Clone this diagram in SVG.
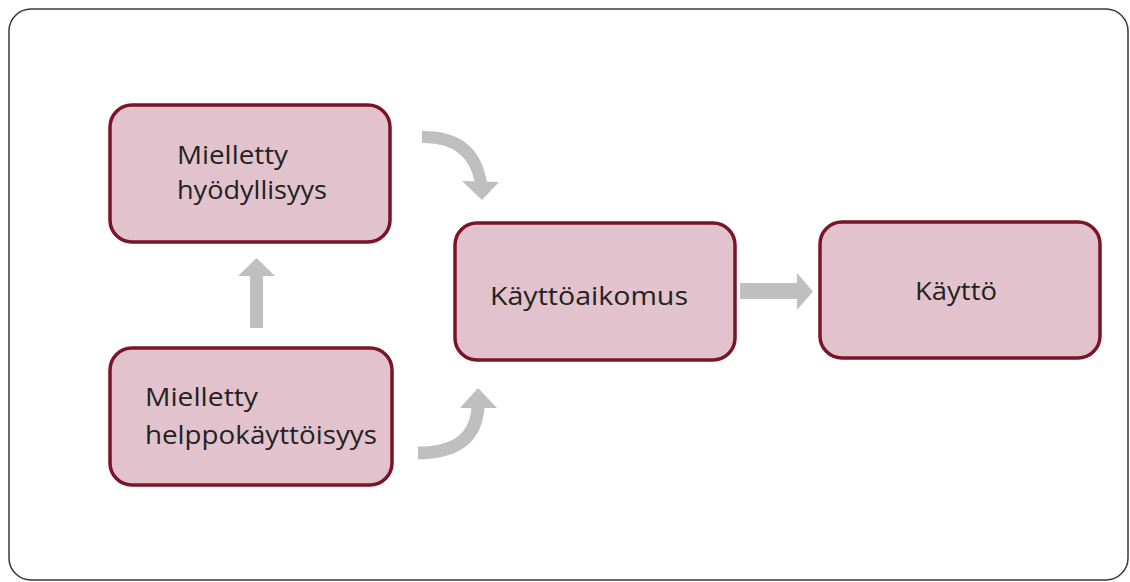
<svg xmlns="http://www.w3.org/2000/svg" width="1130" height="582" viewBox="0 0 1130 582">
  <style>
    .box { fill: #e2c3cd; stroke: #7a1528; stroke-width: 3.5; }
    .lbl { font-family: "Open Sans", Lato, "Liberation Sans", sans-serif; font-size: 26px; font-weight: 400; fill: #222222; }
    .shaft { fill: none; stroke: #bfbfbf; stroke-linecap: butt; }
    .head { fill: #bfbfbf; }
  </style>
  <rect x="0" y="0" width="1130" height="582" fill="#ffffff"/>
  <rect id="frame" x="9" y="9" width="1119" height="571" rx="22" ry="22" fill="#ffffff" stroke="#3a3a3a" stroke-width="1.5"/>

  <g id="connectors">
    <!-- up arrow -->
    <rect class="head" x="250" y="274" width="13" height="54"/>
    <polygon class="head" points="238,276 275,276 256.5,258"/>
    <!-- right arrow -->
    <rect class="head" x="740" y="283" width="58" height="16"/>
    <polygon class="head" points="797,273 797,310 813,291.5"/>
    <!-- curved arrow top -->
    <path class="shaft" stroke-width="12" d="M 422 137 Q 473 136 481 183"/>
    <polygon class="head" points="462,181 499,182 482,200"/>
    <!-- curved arrow bottom -->
    <path class="shaft" stroke-width="13" d="M 418 453 Q 476 453 478 406"/>
    <polygon class="head" points="460,408 497,408 478,388"/>
  </g>

  <g id="node-hyodyllisyys">
    <rect class="box" x="110" y="105" width="280" height="137" rx="22" ry="22"/>
    <text class="lbl" x="177" y="164" textLength="111" lengthAdjust="spacingAndGlyphs">Mielletty</text>
    <text class="lbl" x="177" y="199" textLength="150" lengthAdjust="spacingAndGlyphs">hyödyllisyys</text>
  </g>

  <g id="node-helppokayttoisyys">
    <rect class="box" x="110" y="348" width="282" height="137" rx="22" ry="22"/>
    <text class="lbl" x="145" y="406" textLength="113" lengthAdjust="spacingAndGlyphs">Mielletty</text>
    <text class="lbl" x="145" y="444" textLength="232" lengthAdjust="spacingAndGlyphs">helppokäyttöisyys</text>
  </g>

  <g id="node-kayttoaikomus">
    <rect class="box" x="455" y="223" width="280" height="137" rx="22" ry="22"/>
    <text class="lbl" x="490" y="305" textLength="198" lengthAdjust="spacingAndGlyphs">Käyttöaikomus</text>
  </g>

  <g id="node-kaytto">
    <rect class="box" x="820" y="222" width="280" height="136" rx="22" ry="22"/>
    <text class="lbl" x="915" y="300" textLength="82" lengthAdjust="spacingAndGlyphs">Käyttö</text>
  </g>
</svg>
